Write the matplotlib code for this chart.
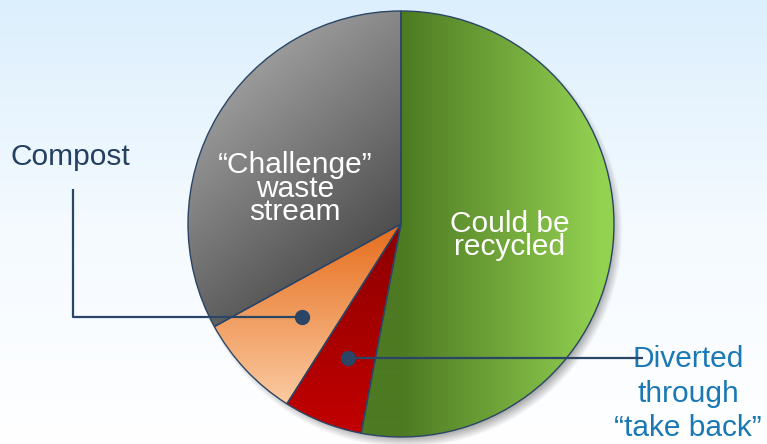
import numpy as np
import matplotlib
matplotlib.use("Agg")
import matplotlib.pyplot as plt
from matplotlib.colors import LinearSegmentedColormap, to_rgb

# ---- data ----
categories = ["Could be recycled", "Diverted through \u201ctake back\u201d", "Compost", "\u201cChallenge\u201d waste stream"]
values = [53, 6, 8, 33]
label_recycled = ["Could be", "recycled"]
label_challenge = ["\u201cChallenge\u201d", "waste", "stream"]
label_diverted = ["Diverted", "through", "\u201ctake back\u201d"]
label_compost = "Compost"

W, H = 767, 444
plt.rcParams['font.family'] = ['Liberation Sans', 'DejaVu Sans']

fig = plt.figure(figsize=(W / 100, H / 100), dpi=100)
ax = fig.add_axes([0, 0, 1, 1])

def Y(y):  # pixel-from-top to data coordinate
    return H - y

cx, cy, R = 401, Y(224), 213

# background gradient
bg = np.linspace(0, 1, 256).reshape(-1, 1)
bg_cmap = LinearSegmentedColormap.from_list("bg", ["#dceffd", "#f4faff", "#ffffff"])
ax.imshow(bg, extent=(0, W, 0, H), origin="upper", cmap=bg_cmap, aspect="auto", zorder=0)

# shadow
xs = np.linspace(0, W, W)
ys = np.linspace(0, H, H)
XX, YY = np.meshgrid(xs, ys)
d = np.hypot(XX - (cx + 5), YY - (cy - 7))
alpha = np.clip((R + 4 - d) / 12, 0, 1) * 0.55
sh = np.zeros((H, W, 4))
sh[..., :3] = 0.35
sh[..., 3] = alpha
ax.imshow(sh, extent=(0, W, 0, H), origin="lower", aspect="auto", zorder=1)

wedges, _ = ax.pie(values, startangle=90, counterclock=False, center=(cx, cy), radius=R,
                   colors=["none"] * 4,
                   wedgeprops=dict(edgecolor="#2b4566", linewidth=1.0, zorder=3))

def lin_grad(p0, p1, c0, c1):
    t = ((XX - p0[0]) * (p1[0] - p0[0]) + (YY - p0[1]) * (p1[1] - p0[1])) / \
        ((p1[0] - p0[0]) ** 2 + (p1[1] - p0[1]) ** 2)
    t = np.clip(t, 0, 1)[..., None]
    a, b = np.array(to_rgb(c0)), np.array(to_rgb(c1))
    return a * (1 - t) + b * t

grads = [
    lin_grad((cx, 0), (cx + 200, 0), "#4d7a22", "#93d151"),
    lin_grad((0, Y(225)), (0, Y(435)), "#8c0000", "#c20000"),
    lin_grad((0, Y(225)), (0, Y(405)), "#e66d1c", "#fbcba2"),
    lin_grad((215, Y(45)), (400, Y(260)), "#aaaaaa", "#454545"),
]
for w, g in zip(wedges, grads):
    im = ax.imshow(g, extent=(0, W, 0, H), origin="lower", aspect="auto", zorder=2)
    im.set_clip_path(w)

FS = 21.5
white = dict(color="white", fontsize=FS, ha="center", va="baseline", zorder=5)
for txt, yb in zip(label_challenge, [173.3, 196.7, 220]):
    ax.text(295, Y(yb), txt, **white)
for txt, yb in zip(label_recycled, [231.7, 255]):
    ax.text(510, Y(yb), txt, **white)

navy = "#2b4566"
def mid_point(w, frac):
    th = np.deg2rad((w.theta1 + w.theta2) / 2)
    return cx + frac * R * np.cos(th), cy + frac * R * np.sin(th)

# compost leader
px, py = mid_point(wedges[2], 0.635)
ax.plot([73, 73, px], [Y(189), py, py], color=navy, lw=1.6, zorder=6, solid_capstyle="butt")
ax.plot([px], [py], "o", color=navy, ms=10, zorder=7)
ax.text(11, Y(165), label_compost, color="#243f5f", fontsize=FS, ha="left", va="baseline")

# diverted leader
px, py = mid_point(wedges[1], 0.675)
ax.plot([px, 643], [py, py], color=navy, lw=1.6, zorder=6, solid_capstyle="butt")
ax.plot([px], [py], "o", color=navy, ms=10, zorder=7)
for txt, yb in zip(label_diverted, [367.3, 401.7, 436]):
    ax.text(688, Y(yb), txt, color="#1a78b4", fontsize=FS, ha="center", va="baseline", zorder=5)

ax.set_xlim(0, W)
ax.set_ylim(0, H)
ax.set_aspect("auto")
ax.axis("off")
fig.savefig("out.png", dpi=100)
